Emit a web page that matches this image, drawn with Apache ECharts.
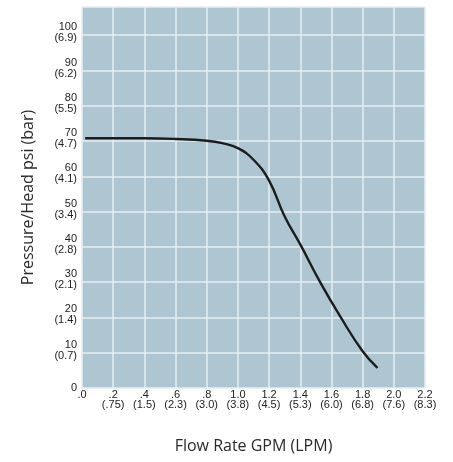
<!DOCTYPE html>
<html>
<head>
<meta charset="utf-8">
<script src="https://cdn.jsdelivr.net/npm/echarts@6/dist/echarts.min.js"></script>
<style>
html,body{margin:0;padding:0;background:#fff;}
#chart{width:453px;height:462px;}
</style>
</head>
<body>
<div id="chart"></div>
<script>
// Flow (GPM) vs Pressure (psi)
const flowGpm = [0.02, 0.4, 0.6, 0.8, 0.9, 1.0, 1.1, 1.2, 1.3, 1.4, 1.53, 1.66, 1.8, 1.895];
const pressurePsi = [70.8, 70.8, 70.6, 70.1, 69.4, 68.0, 64.7, 58.8, 48.6, 40.7, 29.8, 20.0, 10.4, 5.7];

// Tick labels
const gpmTicks = ['.0', '.2', '.4', '.6', '.8', '1.0', '1.2', '1.4', '1.6', '1.8', '2.0', '2.2'];
const lpmTicks = ['', '(.75)', '(1.5)', '(2.3)', '(3.0)', '(3.8)', '(4.5)', '(5.3)', '(6.0)', '(6.8)', '(7.6)', '(8.3)'];
const psiTicks = ['0', '10', '20', '30', '40', '50', '60', '70', '80', '90', '100'];
const barTicks = ['', '(0.7)', '(1.4)', '(2.1)', '(2.8)', '(3.4)', '(4.1)', '(4.7)', '(5.5)', '(6.2)', '(6.9)'];

const chart = echarts.init(document.getElementById('chart'), null, {renderer: 'canvas'});
const labelFont = {fontFamily: 'Liberation Sans', fontSize: 11, color: '#222'};
const gridLine = {show: true, lineStyle: {color: '#e6eef2', width: 1.5}};

chart.setOption({
  animation: false,
  grid: {left: 82, right: 28, top: 7, bottom: 74, show: true, backgroundColor: '#aec6d1', borderWidth: 0},
  xAxis: {
    type: 'value', min: 0, max: 2.2, interval: 0.2,
    axisLine: {show: false}, axisTick: {show: false},
    splitLine: gridLine,
    axisLabel: Object.assign({}, labelFont, {
      margin: 2, lineHeight: 10,
      formatter: function (v, i) {
        const k = Math.round(v / 0.2);
        if (k < 0 || k >= gpmTicks.length) return '';
        return lpmTicks[k] ? gpmTicks[k] + '\n' + lpmTicks[k] : gpmTicks[k];
      }
    }),
    name: 'Flow Rate GPM (LPM)', nameLocation: 'middle', nameGap: 50,
    nameTextStyle: {fontFamily: 'Open Sans', fontSize: 16, color: '#2a2a2a'}
  },
  yAxis: {
    type: 'value', min: 0, max: 108, interval: 10,
    axisLine: {show: false}, axisTick: {show: false},
    splitLine: gridLine,
    axisLabel: Object.assign({}, labelFont, {
      margin: 5, lineHeight: 11, align: 'right', padding: [0, 0, 5, 0],
      formatter: function (v) {
        const k = Math.round(v / 10);
        if (Math.abs(v - k * 10) > 0.01 || k >= psiTicks.length) return '';
        return barTicks[k] ? psiTicks[k] + '\n' + barTicks[k] : '{z|' + psiTicks[k] + '}';
      },
      rich: {z: {fontFamily: 'Liberation Sans', fontSize: 11, color: '#222', padding: [5, 0, 0, 0]}}
    }),
    name: 'Pressure/Head psi (bar)', nameLocation: 'middle', nameGap: 46,
    nameTextStyle: {fontFamily: 'Open Sans', fontSize: 16, color: '#2a2a2a'}
  },
  series: [{
    type: 'line',
    data: flowGpm.map((x, i) => [x, pressurePsi[i]]),
    smooth: 0.45,
    showSymbol: false,
    lineStyle: {color: '#1c1c1c', width: 2.4}
  }]
});
</script>
</body>
</html>
